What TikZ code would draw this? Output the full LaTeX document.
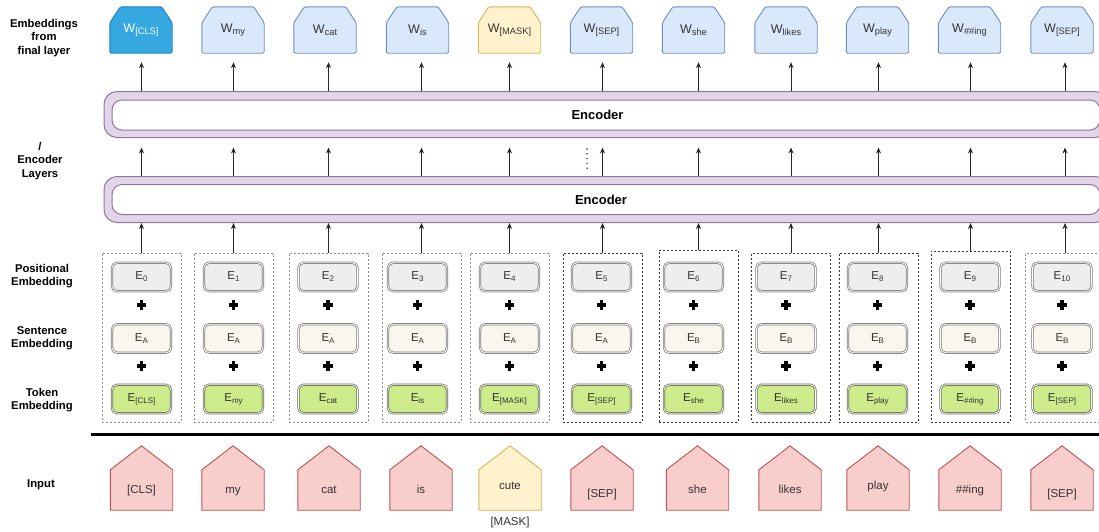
\documentclass[tikz,border=0pt]{standalone}
\usepackage{fontspec}
\setmainfont{Liberation Sans}
\usetikzlibrary{arrows.meta,backgrounds}
\definecolor{encfill}{HTML}{E1D5E7}
\definecolor{encdraw}{HTML}{9673A6}
\definecolor{wfill}{HTML}{DAE8FC}
\definecolor{wdraw}{HTML}{6C8EBF}
\definecolor{clsfill}{HTML}{35A8E1}
\definecolor{clsdraw}{HTML}{1F7FBF}
\definecolor{maskfill}{HTML}{FFF2CC}
\definecolor{maskdraw}{HTML}{D6B656}
\definecolor{redfill}{HTML}{F8CECC}
\definecolor{reddraw}{HTML}{B85450}
\definecolor{posfill}{HTML}{EEEEEE}
\definecolor{senfill}{HTML}{F9F7ED}
\definecolor{tokfill}{HTML}{CDEB8B}
\definecolor{edraw}{HTML}{7A7A7A}
\definecolor{tdraw}{HTML}{5F6B50}
\definecolor{txt}{HTML}{333333}
\definecolor{dgray}{HTML}{8C8C8C}
\definecolor{dblack}{HTML}{333333}
\newcommand\wsb[1]{\raisebox{-2.5pt}{\fontsize{9.3}{10}\selectfont #1}}
\newcommand\esb[1]{\raisebox{-2pt}{\fontsize{8}{9}\selectfont #1}}
\newcommand\shiftup[2]{\raisebox{#1}[\height][\depth]{#2}}
\begin{document}
\begin{tikzpicture}[x=1pt,y=-1pt,
  lbl/.style={font=\bfseries\fontsize{11.3}{13.5}\selectfont, align=center, inner sep=0pt},
  wbox/.style={minimum width=62pt, minimum height=46pt, inner sep=0pt, font=\fontsize{12.5}{14}\selectfont, text=txt},
  encout/.style={draw=encdraw, fill=encfill, rounded corners=13pt, line width=1pt, minimum height=46pt, inner sep=0pt},
  encin/.style={draw=encdraw, fill=white, rounded corners=10pt, line width=1pt, minimum height=30pt, inner sep=0pt, font=\bfseries\fontsize{13}{15}\selectfont},
  dbox/.style={dash pattern=on 2pt off 2pt, line width=0.8pt, minimum width=79pt, inner sep=0pt},
  ebox/.style={minimum width=59pt, minimum height=28.5pt, inner sep=0pt, rounded corners=5pt, line width=0.7pt, double=white, double distance=0.9pt, font=\fontsize{11.5}{13}\selectfont, text=txt},
  posbox/.style={ebox, fill=posfill, draw=edraw},
  senbox/.style={ebox, fill=senfill, draw=edraw},
  tokbox/.style={ebox, fill=tokfill, draw=tdraw},
  house/.style={minimum width=62pt, minimum height=40pt, inner sep=0pt, text height=8.5pt, text depth=2.5pt, font=\fontsize{11.5}{13}\selectfont, text=txt},
  arr/.style={-{Stealth[length=6pt,width=5pt]}, line width=0.9pt, draw=black!85},
  plus/.style={line width=3.4pt, draw=black}
]
\useasboundingbox (0,0) rectangle (1099,531);
\clip (0,0) rectangle (1099,531);

% left labels
\node[lbl] (l1) at (44,38) {Embeddings\\from\\final layer};
\node[lbl] (l2) at (40,161) {/\\Encoder\\Layers};
\node[lbl] (l3) at (42,276) {Positional\\Embedding};
\node[lbl] (l4) at (42,338) {Sentence\\Embedding};
\node[lbl] (l5) at (42,400) {Token\\Embedding};
\node[lbl] (l6) at (41,485) {Input};

% encoders
\node[encout, minimum width=1004pt] (e1o) at (606,114.5) {};
\node[encin, minimum width=988pt] (enc1) at (606,115) {\hspace*{-17pt}Encoder};
\node[encout, minimum width=1004pt] (e2o) at (606,199.5) {};
\node[encin, minimum width=988pt] (enc2) at (606,199.5) {\hspace*{-10pt}Encoder};

% dashed columns
\foreach \i/\cx/\dtop/\dcol in {1/141.5/253/dgray, 2/233.5/253/dgray, 3/328.5/253/dgray, 4/421.5/253/dgray, 5/509.5/253/dgray, 6/602.5/253/dblack, 7/698.5/250/dblack, 8/791/253/dblack, 9/878.5/253/dblack, 10/970.5/251/dblack, 11/1065/253/dgray}{
  \pgfmathsetmacro\hgt{422-\dtop}
  \pgfmathsetmacro\cy{(422+\dtop)/2}
  \node[dbox, draw=\dcol, minimum height=\hgt pt] (d\i) at (\cx,\cy) {};
}

% embedding boxes
\foreach \i/\ex/\pl/\sl/\tl in {1/141.5/0/A/[CLS], 2/233.5/1/A/my, 3/328/2/A/cat, 4/417.5/3/A/is, 5/509.5/4/A/[MASK], 6/601.5/5/A/[SEP], 7/693.5/6/B/she, 8/786/7/B/likes, 9/877.5/8/B/play, 10/970/9/B/\#\#ing, 11/1062/10/B/[SEP]}{
  \node[posbox] (p\i) at (\ex,277) {E\esb{\pl}};
  \node[senbox] (s\i) at (\ex,338.5) {E\esb{\sl}};
  \node[tokbox] (t\i) at (\ex,399) {E\esb{\tl}};
  \draw[plus] (\ex-4.9,305) -- (\ex+4.9,305) (\ex,300.1) -- (\ex,309.9);
  \draw[plus] (\ex-4.9,366) -- (\ex+4.9,366) (\ex,361.1) -- (\ex,370.9);
}

% output W boxes
\foreach \i/\wx/\lab/\wfc/\wdc/\tcol in {1/141/[CLS]/clsfill/clsdraw/white, 2/233/my/wfill/wdraw/txt, 3/325/cat/wfill/wdraw/txt, 4/417.5/is/wfill/wdraw/txt, 5/509.5/[MASK]/maskfill/maskdraw/txt, 6/601.5/[SEP]/wfill/wdraw/txt, 7/693.5/she/wfill/wdraw/txt, 8/786/likes/wfill/wdraw/txt, 9/877.5/play/wfill/wdraw/txt, 10/969.5/\#\#ing/wfill/wdraw/txt, 11/1062/[SEP]/wfill/wdraw/txt}{
  \node[wbox, text=\tcol] (w\i) at (\wx,30) {W\wsb{\lab}};
  \begin{scope}[on background layer]
    \draw[fill=\wfc, draw=\wdc, line width=0.9pt, rounded corners=1.5pt] (w\i.south west) -- ([yshift=-16pt]w\i.north west) -- ([xshift=10.5pt]w\i.north west) -- ([xshift=-10.5pt]w\i.north east) -- ([yshift=-16pt]w\i.north east) -- (w\i.south east) -- cycle;
  \end{scope}
}

% input houses
\foreach \i/\hx/\lab/\hfc/\hdc in {1/141.5/[CLS]/redfill/reddraw, 2/233/my/redfill/reddraw, 3/329/cat/redfill/reddraw, 4/421/is/redfill/reddraw, 5/510/\shiftup{4pt}{cute}/maskfill/maskdraw, 6/602/\shiftup{-4pt}{[SEP]}/redfill/reddraw, 7/697.5/she/redfill/reddraw, 8/790/likes/redfill/reddraw, 9/878/\shiftup{4pt}{play}/redfill/reddraw, 10/970/\#\#ing/redfill/reddraw, 11/1062/\shiftup{-4pt}{[SEP]}/redfill/reddraw}{
  \node[house] (h\i) at (\hx,490) {\lab};
  \begin{scope}[on background layer]
    \draw[fill=\hfc, draw=\hdc, line width=0.9pt] (h\i.south west) -- (h\i.north west) -- ([yshift=24pt]h\i.north) -- (h\i.north east) -- (h\i.south east) -- cycle;
  \end{scope}
}
\node[house, minimum height=0pt] (mask) at (510,522) {[MASK]};

% arrows
\foreach \i in {1,...,11}{
  \draw[arr] (d\i.north) -- (d\i.north |- e2o.south);
  \draw[arr, shorten >=9.5pt] (d\i.north |- e2o.north) -- (d\i.north |- e1o.south);
  \draw[arr, shorten >=9pt] (d\i.north |- e1o.north) -- (d\i.north |- w\i.south);
}

% vertical dots
\draw[line width=1.6pt, line cap=round, dash pattern=on 0pt off 4.8pt, black!85] (587,149) -- (587,168.5);

% separator
\draw[line width=3pt] (91,434) -- (1099,434);
\end{tikzpicture}
\end{document}
